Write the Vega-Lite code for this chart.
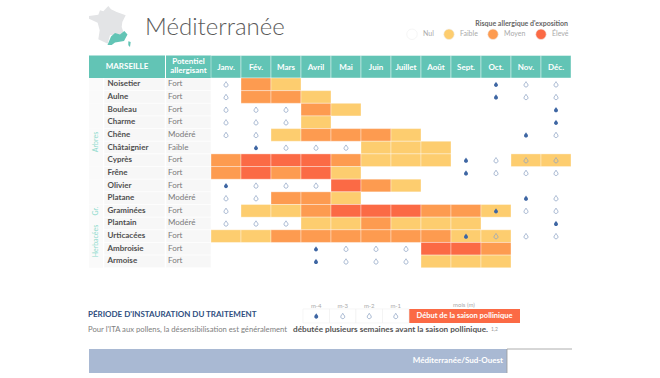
{
"$schema":"https://vega.github.io/schema/vega-lite/v6.json",
"width":660,"height":378,
"autosize":{"type":"fit","contains":"padding"},
"padding":0,
"background":"#ffffff",
"config":{"view":{"stroke":null},"font":"Lato","text":{"font":"Lato"}},
"datasets":{
"pollens":[
{"pollen":"Noisetier","potentiel":"Fort"},{"pollen":"Aulne","potentiel":"Fort"},{"pollen":"Bouleau","potentiel":"Fort"},{"pollen":"Charme","potentiel":"Fort"},{"pollen":"Chêne","potentiel":"Modéré"},{"pollen":"Châtaignier","potentiel":"Faible"},{"pollen":"Cyprès","potentiel":"Fort"},{"pollen":"Frêne","potentiel":"Fort"},{"pollen":"Olivier","potentiel":"Fort"},{"pollen":"Platane","potentiel":"Modéré"},{"pollen":"Graminées","potentiel":"Fort"},{"pollen":"Plantain","potentiel":"Modéré"},{"pollen":"Urticacées","potentiel":"Fort"},{"pollen":"Ambroisie","potentiel":"Fort"},{"pollen":"Armoise","potentiel":"Fort"}],
"moisListe":[{"mois":"Janv.","l":"e"},{"mois":"Fév.","l":"e"},{"mois":"Mars","l":"e"},{"mois":"Avril","l":"e"},{"mois":"Mai","l":"e"},{"mois":"Juin","l":"e"},{"mois":"Juillet","l":"e"},{"mois":"Août","l":"e"},{"mois":"Sept.","l":"e"},{"mois":"Oct.","l":"e"},{"mois":"Nov.","l":"e"},{"mois":"Déc.","l":"e"}],
"cellules":[
{"pollen":"Noisetier","mois":"Janv.","goutte":"vide"},{"pollen":"Noisetier","mois":"Fév.","risque":"Moyen"},{"pollen":"Noisetier","mois":"Mars","risque":"Faible"},{"pollen":"Noisetier","mois":"Oct.","goutte":"pleine"},{"pollen":"Noisetier","mois":"Nov.","goutte":"vide"},{"pollen":"Noisetier","mois":"Déc.","goutte":"vide"},
{"pollen":"Aulne","mois":"Janv.","goutte":"vide"},{"pollen":"Aulne","mois":"Fév.","risque":"Moyen"},{"pollen":"Aulne","mois":"Mars","risque":"Moyen"},{"pollen":"Aulne","mois":"Avril","risque":"Faible"},{"pollen":"Aulne","mois":"Oct.","goutte":"pleine"},{"pollen":"Aulne","mois":"Nov.","goutte":"vide"},{"pollen":"Aulne","mois":"Déc.","goutte":"vide"},
{"pollen":"Bouleau","mois":"Janv.","goutte":"vide"},{"pollen":"Bouleau","mois":"Fév.","goutte":"vide"},{"pollen":"Bouleau","mois":"Mars","goutte":"vide"},{"pollen":"Bouleau","mois":"Avril","risque":"Moyen"},{"pollen":"Bouleau","mois":"Mai","risque":"Faible"},{"pollen":"Bouleau","mois":"Déc.","goutte":"pleine"},
{"pollen":"Charme","mois":"Janv.","goutte":"vide"},{"pollen":"Charme","mois":"Fév.","goutte":"vide"},{"pollen":"Charme","mois":"Mars","goutte":"vide"},{"pollen":"Charme","mois":"Avril","risque":"Faible"},{"pollen":"Charme","mois":"Déc.","goutte":"pleine"},
{"pollen":"Chêne","mois":"Janv.","goutte":"vide"},{"pollen":"Chêne","mois":"Fév.","goutte":"vide"},{"pollen":"Chêne","mois":"Mars","risque":"Faible"},{"pollen":"Chêne","mois":"Avril","risque":"Moyen"},{"pollen":"Chêne","mois":"Mai","risque":"Moyen"},{"pollen":"Chêne","mois":"Juin","risque":"Moyen"},{"pollen":"Chêne","mois":"Juillet","risque":"Faible"},{"pollen":"Chêne","mois":"Nov.","goutte":"pleine"},{"pollen":"Chêne","mois":"Déc.","goutte":"vide"},
{"pollen":"Châtaignier","mois":"Fév.","goutte":"pleine"},{"pollen":"Châtaignier","mois":"Mars","goutte":"vide"},{"pollen":"Châtaignier","mois":"Avril","goutte":"vide"},{"pollen":"Châtaignier","mois":"Mai","goutte":"vide"},{"pollen":"Châtaignier","mois":"Juin","risque":"Faible"},{"pollen":"Châtaignier","mois":"Juillet","risque":"Faible"},{"pollen":"Châtaignier","mois":"Août","risque":"Faible"},
{"pollen":"Cyprès","mois":"Janv.","risque":"Moyen"},{"pollen":"Cyprès","mois":"Fév.","risque":"Élevé"},{"pollen":"Cyprès","mois":"Mars","risque":"Élevé"},{"pollen":"Cyprès","mois":"Avril","risque":"Élevé"},{"pollen":"Cyprès","mois":"Mai","risque":"Moyen"},{"pollen":"Cyprès","mois":"Juin","risque":"Faible"},{"pollen":"Cyprès","mois":"Juillet","risque":"Faible"},{"pollen":"Cyprès","mois":"Août","risque":"Faible"},{"pollen":"Cyprès","mois":"Sept.","goutte":"pleine"},{"pollen":"Cyprès","mois":"Oct.","goutte":"vide"},{"pollen":"Cyprès","mois":"Nov.","risque":"Faible","goutte":"vide"},{"pollen":"Cyprès","mois":"Déc.","risque":"Faible","goutte":"vide"},
{"pollen":"Frêne","mois":"Janv.","risque":"Moyen"},{"pollen":"Frêne","mois":"Fév.","risque":"Élevé"},{"pollen":"Frêne","mois":"Mars","risque":"Moyen"},{"pollen":"Frêne","mois":"Avril","risque":"Élevé"},{"pollen":"Frêne","mois":"Mai","risque":"Faible"},{"pollen":"Frêne","mois":"Sept.","goutte":"pleine"},{"pollen":"Frêne","mois":"Oct.","goutte":"vide"},{"pollen":"Frêne","mois":"Nov.","goutte":"vide"},{"pollen":"Frêne","mois":"Déc.","goutte":"vide"},
{"pollen":"Olivier","mois":"Janv.","goutte":"pleine"},{"pollen":"Olivier","mois":"Fév.","goutte":"vide"},{"pollen":"Olivier","mois":"Mars","goutte":"vide"},{"pollen":"Olivier","mois":"Avril","goutte":"vide"},{"pollen":"Olivier","mois":"Mai","risque":"Élevé"},{"pollen":"Olivier","mois":"Juin","risque":"Moyen"},{"pollen":"Olivier","mois":"Juillet","risque":"Faible"},
{"pollen":"Platane","mois":"Janv.","goutte":"vide"},{"pollen":"Platane","mois":"Fév.","goutte":"vide"},{"pollen":"Platane","mois":"Mars","risque":"Moyen"},{"pollen":"Platane","mois":"Avril","risque":"Moyen"},{"pollen":"Platane","mois":"Mai","risque":"Faible"},{"pollen":"Platane","mois":"Nov.","goutte":"pleine"},{"pollen":"Platane","mois":"Déc.","goutte":"vide"},
{"pollen":"Graminées","mois":"Janv.","goutte":"vide"},{"pollen":"Graminées","mois":"Fév.","risque":"Faible"},{"pollen":"Graminées","mois":"Mars","risque":"Faible"},{"pollen":"Graminées","mois":"Avril","risque":"Moyen"},{"pollen":"Graminées","mois":"Mai","risque":"Élevé"},{"pollen":"Graminées","mois":"Juin","risque":"Élevé"},{"pollen":"Graminées","mois":"Juillet","risque":"Élevé"},{"pollen":"Graminées","mois":"Août","risque":"Moyen"},{"pollen":"Graminées","mois":"Sept.","risque":"Moyen"},{"pollen":"Graminées","mois":"Oct.","risque":"Faible","goutte":"pleine"},{"pollen":"Graminées","mois":"Nov.","goutte":"vide"},{"pollen":"Graminées","mois":"Déc.","goutte":"vide"},
{"pollen":"Plantain","mois":"Janv.","goutte":"vide"},{"pollen":"Plantain","mois":"Fév.","goutte":"vide"},{"pollen":"Plantain","mois":"Mars","goutte":"vide"},{"pollen":"Plantain","mois":"Avril","risque":"Faible"},{"pollen":"Plantain","mois":"Mai","risque":"Faible"},{"pollen":"Plantain","mois":"Juin","risque":"Moyen"},{"pollen":"Plantain","mois":"Juillet","risque":"Faible"},{"pollen":"Plantain","mois":"Août","risque":"Faible"},{"pollen":"Plantain","mois":"Sept.","risque":"Faible"},{"pollen":"Plantain","mois":"Déc.","goutte":"pleine"},
{"pollen":"Urticacées","mois":"Janv.","risque":"Faible"},{"pollen":"Urticacées","mois":"Fév.","risque":"Faible"},{"pollen":"Urticacées","mois":"Mars","risque":"Moyen"},{"pollen":"Urticacées","mois":"Avril","risque":"Moyen"},{"pollen":"Urticacées","mois":"Mai","risque":"Moyen"},{"pollen":"Urticacées","mois":"Juin","risque":"Moyen"},{"pollen":"Urticacées","mois":"Juillet","risque":"Moyen"},{"pollen":"Urticacées","mois":"Août","risque":"Moyen"},{"pollen":"Urticacées","mois":"Sept.","risque":"Faible","goutte":"pleine"},{"pollen":"Urticacées","mois":"Oct.","risque":"Faible","goutte":"vide"},{"pollen":"Urticacées","mois":"Nov.","goutte":"vide"},{"pollen":"Urticacées","mois":"Déc.","goutte":"vide"},
{"pollen":"Ambroisie","mois":"Avril","goutte":"pleine"},{"pollen":"Ambroisie","mois":"Mai","goutte":"vide"},{"pollen":"Ambroisie","mois":"Juin","goutte":"vide"},{"pollen":"Ambroisie","mois":"Juillet","goutte":"vide"},{"pollen":"Ambroisie","mois":"Août","risque":"Élevé"},{"pollen":"Ambroisie","mois":"Sept.","risque":"Élevé"},{"pollen":"Ambroisie","mois":"Oct.","risque":"Moyen"},
{"pollen":"Armoise","mois":"Avril","goutte":"pleine"},{"pollen":"Armoise","mois":"Mai","goutte":"vide"},{"pollen":"Armoise","mois":"Juin","goutte":"vide"},{"pollen":"Armoise","mois":"Juillet","goutte":"vide"},{"pollen":"Armoise","mois":"Août","risque":"Faible"},{"pollen":"Armoise","mois":"Sept.","risque":"Faible"},{"pollen":"Armoise","mois":"Oct.","risque":"Faible"}
],
"traitement":[{"m":"m-4","ligne":"t","goutte":"pleine"},{"m":"m-3","ligne":"t","goutte":"vide"},{"m":"m-2","ligne":"t","goutte":"vide"},{"m":"m-1","ligne":"t","goutte":"vide"}]
},
"resolve":{"scale":{"x":"independent","y":"independent"}},
"layer":[
{"data":{"name":"pollens"},"layer":[
{"mark":{"type":"rect","fill":"#f7f7f7","stroke":"#ffffff","strokeWidth":0.6},"encoding":{"x":{"datum":104,"type":"quantitative","scale":{"domain":[0,660],"range":[0,660],"nice":false,"zero":false},"axis":null},"x2":{"datum":165},"y":{"field":"pollen","type":"nominal","sort":null,"scale":{"domain":["Noisetier","Aulne","Bouleau","Charme","Chêne","Châtaignier","Cyprès","Frêne","Olivier","Platane","Graminées","Plantain","Urticacées","Ambroisie","Armoise"],"range":[78,267.75],"paddingInner":0,"paddingOuter":0},"axis":null}}},
{"mark":{"type":"rect","fill":"#f7f7f7","stroke":"#ffffff","strokeWidth":0.6},"encoding":{"x":{"datum":166},"x2":{"datum":211},"y":{"field":"pollen","type":"nominal","sort":null}}},
{"mark":{"type":"rect","fill":"#fafafa"},"encoding":{"x":{"datum":89},"x2":{"datum":103},"y":{"field":"pollen","type":"nominal","sort":null}}},
{"mark":{"type":"text","color":"#7a7a7a","fontSize":8,"align":"left","baseline":"middle"},"encoding":{"x":{"datum":168},"y":{"field":"pollen","type":"nominal","sort":null},"text":{"field":"potentiel"}}}
]},
{"layer":[
{"data":{"values":[{"t":"MARSEILLE"}]},"mark":{"type":"rect","fill":"#62c4b5"},"encoding":{"x":{"datum":89,"type":"quantitative","scale":{"domain":[0,660],"range":[0,660],"nice":false,"zero":false},"axis":null},"x2":{"datum":165},"y":{"datum":55.5,"type":"quantitative","scale":{"domain":[0,378],"range":[0,378],"nice":false,"zero":false},"axis":null},"y2":{"datum":78}}},
{"data":{"values":[{"t":"Potentiel"}]},"mark":{"type":"rect","fill":"#62c4b5"},"encoding":{"x":{"datum":166},"x2":{"datum":211},"y":{"datum":55.5},"y2":{"datum":78}}},
{"data":{"values":[{"t":"MARSEILLE"}]},"mark":{"type":"text","color":"#ffffff","fontWeight":"bold","fontSize":8,"align":"center","baseline":"middle"},"encoding":{"x":{"datum":127},"y":{"datum":66.5},"text":{"field":"t"}}},
{"data":{"values":[{"t":"Potentiel\nallergisant"}]},"mark":{"type":"text","color":"#ffffff","fontWeight":"bold","fontSize":8,"lineHeight":9,"lineBreak":"\n","align":"center","baseline":"middle"},"encoding":{"x":{"datum":188.5},"y":{"datum":62},"text":{"field":"t"}}},
{"data":{"values":[{"t":"Méditerranée"}]},"mark":{"type":"text","color":"#5a5a5a","fontWeight":300,"fontSize":24,"align":"left","baseline":"middle"},"encoding":{"x":{"datum":145},"y":{"datum":28},"text":{"field":"t"}}},
{"data":{"values":[{"t":"France"}]},"mark":{"type":"point","filled":true,"opacity":1,"color":"#e3e4e6","size":2500,"shape":"M-.067,-.84L.04,-.707L.267,-.6L.627,-.467L.493,-.2L.467,0L.573,.307L0,.333L-.093,.667L-.467,.493L-.413,.133L-.493,-.173L-.84,-.333L-.84,-.44L-.467,-.493L-.4,-.667L-.267,-.627Z"},"encoding":{"x":{"datum":110},"y":{"datum":27}}},
{"data":{"values":[{"t":"Région"}]},"mark":{"type":"point","filled":true,"opacity":1,"color":"#62c4b5","size":2500,"shape":"M-.1,.72L.04,.38L.2,.24L.4,.3L.573,.16L.7,.3L.56,.56L.2,.62L.067,.72ZM.733,.573L.827,.6L.8,.8L.733,.733Z"},"encoding":{"x":{"datum":110},"y":{"datum":27}}},
{"data":{"values":[{"t":"Arbres"}]},"mark":{"type":"text","color":"#8fdacd","fontSize":7,"angle":270,"align":"center","baseline":"middle"},"encoding":{"x":{"datum":96},"y":{"datum":142},"text":{"field":"t"}}},
{"data":{"values":[{"t":"Gr."}]},"mark":{"type":"text","color":"#8fdacd","fontSize":7,"angle":270,"align":"center","baseline":"middle"},"encoding":{"x":{"datum":96},"y":{"datum":211},"text":{"field":"t"}}},
{"data":{"values":[{"t":"Herbacées"}]},"mark":{"type":"text","color":"#8fdacd","fontSize":7,"angle":270,"align":"center","baseline":"middle"},"encoding":{"x":{"datum":96},"y":{"datum":241},"text":{"field":"t"}}},
{"data":{"values":[{"t":"PÉRIODE D'INSTAURATION DU TRAITEMENT"}]},"mark":{"type":"text","color":"#2f4f80","fontWeight":"bold","fontSize":8,"align":"left","baseline":"middle"},"encoding":{"x":{"datum":88},"y":{"datum":315},"text":{"field":"t"}}},
{"data":{"values":[{"t":"Pour l'ITA aux pollens, la désensibilisation est généralement"}]},"mark":{"type":"text","color":"#808080","fontSize":7.7,"align":"left","baseline":"middle"},"encoding":{"x":{"datum":88},"y":{"datum":330},"text":{"field":"t"}}},
{"data":{"values":[{"t":"débutée plusieurs semaines avant la saison pollinique."}]},"mark":{"type":"text","color":"#555555","fontWeight":"bold","fontSize":8.2,"align":"left","baseline":"middle"},"encoding":{"x":{"datum":293},"y":{"datum":330},"text":{"field":"t"}}},
{"data":{"values":[{"t":"1,2"}]},"mark":{"type":"text","color":"#999999","fontSize":5,"align":"left","baseline":"middle"},"encoding":{"x":{"datum":491},"y":{"datum":329},"text":{"field":"t"}}},
{"data":{"values":[{"t":"Bandeau"}]},"mark":{"type":"rect","fill":"#a9b9d3"},"encoding":{"x":{"datum":89},"x2":{"datum":507},"y":{"datum":349},"y2":{"datum":373}}},
{"data":{"values":[{"t":"Cadre"}]},"mark":{"type":"rule","color":"#9a9a9a","strokeWidth":0.8},"encoding":{"x":{"datum":507},"x2":{"datum":572},"y":{"datum":349}}},
{"data":{"values":[{"t":"Cadre"}]},"mark":{"type":"rule","color":"#9a9a9a","strokeWidth":0.8},"encoding":{"x":{"datum":507},"y":{"datum":349},"y2":{"datum":373}}},
{"data":{"values":[{"t":"Méditerranée/Sud-Ouest"}]},"mark":{"type":"text","color":"#ffffff","fontWeight":"bold","fontSize":8,"align":"right","baseline":"middle"},"encoding":{"x":{"datum":503},"y":{"datum":361},"text":{"field":"t"}}},
{"data":{"values":[{"t":"mois (m)"}]},"mark":{"type":"text","color":"#aaaaaa","fontSize":6,"align":"center","baseline":"middle"},"encoding":{"x":{"datum":464},"y":{"datum":305},"text":{"field":"t"}}},
{"data":{"values":[{"t":"Début"}]},"mark":{"type":"rect","fill":"#fb6a45"},"encoding":{"x":{"datum":409},"x2":{"datum":520},"y":{"datum":309},"y2":{"datum":323}}},
{"data":{"values":[{"t":"Début de la saison pollinique"}]},"mark":{"type":"text","color":"#ffffff","fontWeight":"bold","fontSize":7.5,"align":"center","baseline":"middle"},"encoding":{"x":{"datum":464.5},"y":{"datum":316},"text":{"field":"t"}}}
]},
{"data":{"name":"moisListe"},"layer":[
{"mark":{"type":"rect","fill":"#62c4b5","stroke":"#ffffff","strokeWidth":0.7,"strokeOpacity":0.6},"encoding":{
"x":{"field":"mois","type":"nominal","sort":null,"scale":{"domain":["Janv.","Fév.","Mars","Avril","Mai","Juin","Juillet","Août","Sept.","Oct.","Nov.","Déc."],"range":[211,571],"paddingInner":0,"paddingOuter":0},"axis":null},
"y":{"field":"l","type":"nominal","scale":{"domain":["e"],"range":[55.5,78],"paddingInner":0,"paddingOuter":0},"axis":null}}}
]},
{"data":{"name":"cellules"},"layer":[
{"transform":[{"filter":"datum.risque"}],"mark":{"type":"rect","stroke":"#ffffff","strokeWidth":0.5,"strokeOpacity":0.7},"encoding":{
"x":{"field":"mois","type":"nominal","sort":null,"scale":{"domain":["Janv.","Fév.","Mars","Avril","Mai","Juin","Juillet","Août","Sept.","Oct.","Nov.","Déc."],"range":[211,571],"paddingInner":0,"paddingOuter":0},"axis":{"orient":"top","offset":-78,"title":null,"domain":false,"ticks":false,"grid":false,"labelAngle":0,"labelPadding":7,"labelColor":"#ffffff","labelFontWeight":"bold","labelFontSize":8,"labelFont":"Lato","zindex":1}},
"y":{"field":"pollen","type":"nominal","sort":null,"scale":{"domain":["Noisetier","Aulne","Bouleau","Charme","Chêne","Châtaignier","Cyprès","Frêne","Olivier","Platane","Graminées","Plantain","Urticacées","Ambroisie","Armoise"],"range":[78,267.75],"paddingInner":0,"paddingOuter":0},"axis":{"orient":"left","offset":-107,"title":null,"domain":false,"ticks":false,"grid":false,"labelPadding":0,"labelAlign":"left","labelColor":"#4f4f4f","labelFontWeight":"bold","labelFontSize":8,"labelFont":"Lato","zindex":1}},
"fill":{"field":"risque","type":"nominal","scale":{"domain":["Nul","Faible","Moyen","Élevé"],"range":["#ffffff","#fdcd6f","#fd9b50","#fb6a45"]},"legend":{"orient":"none","legendX":406,"legendY":20,"direction":"horizontal","columns":4,"title":"Risque allergique d'exposition","titleAnchor":"end","titleFontSize":7,"titleFontWeight":"bold","titleColor":"#666666","titleFont":"Lato","titlePadding":1,"labelFontSize":7,"labelColor":"#aaaaaa","labelFont":"Lato","symbolType":"circle","symbolSize":110,"symbolStrokeColor":"#efefef","symbolStrokeWidth":0.6,"columnPadding":8,"labelOffset":5}}
}},
{"transform":[{"filter":"datum.goutte==='pleine'"}],"mark":{"type":"point","filled":true,"opacity":1,"color":"#3e66a3","size":28,"shape":"M0,-1C.25,-.5 .75,-.15 .75,.3A.75,.7 0 1 1 -.75,.3C-.75,-.15 -.25,-.5 0,-1Z"},"encoding":{"x":{"field":"mois","type":"nominal","sort":null},"y":{"field":"pollen","type":"nominal","sort":null}}},
{"transform":[{"filter":"datum.goutte==='vide'"}],"mark":{"type":"point","filled":false,"opacity":1,"color":"#8ea3c4","strokeWidth":0.8,"size":28,"shape":"M0,-1C.25,-.5 .75,-.15 .75,.3A.75,.7 0 1 1 -.75,.3C-.75,-.15 -.25,-.5 0,-1Z"},"encoding":{"x":{"field":"mois","type":"nominal","sort":null},"y":{"field":"pollen","type":"nominal","sort":null}}}
]},
{"data":{"name":"traitement"},"layer":[
{"mark":{"type":"rect","fill":"#ffffff","stroke":"#f0f0f0","strokeWidth":0.6},"encoding":{
"x":{"field":"m","type":"nominal","sort":null,"scale":{"domain":["m-4","m-3","m-2","m-1"],"range":[303,409],"paddingInner":0,"paddingOuter":0},"axis":{"orient":"top","offset":-309,"title":null,"domain":false,"ticks":false,"grid":false,"labelAngle":0,"labelPadding":1,"labelColor":"#aaaaaa","labelFontSize":6,"labelFont":"Lato","zindex":1}},
"y":{"field":"ligne","type":"nominal","scale":{"domain":["t"],"range":[309,323],"paddingInner":0,"paddingOuter":0},"axis":null}}},
{"transform":[{"filter":"datum.goutte==='pleine'"}],"mark":{"type":"point","filled":true,"opacity":1,"color":"#3e66a3","size":28,"shape":"M0,-1C.25,-.5 .75,-.15 .75,.3A.75,.7 0 1 1 -.75,.3C-.75,-.15 -.25,-.5 0,-1Z"},"encoding":{"x":{"field":"m","type":"nominal","sort":null},"y":{"field":"ligne","type":"nominal"}}},
{"transform":[{"filter":"datum.goutte==='vide'"}],"mark":{"type":"point","filled":false,"opacity":1,"color":"#8ea3c4","strokeWidth":0.8,"size":28,"shape":"M0,-1C.25,-.5 .75,-.15 .75,.3A.75,.7 0 1 1 -.75,.3C-.75,-.15 -.25,-.5 0,-1Z"},"encoding":{"x":{"field":"m","type":"nominal","sort":null},"y":{"field":"ligne","type":"nominal"}}}
]}
]
}
